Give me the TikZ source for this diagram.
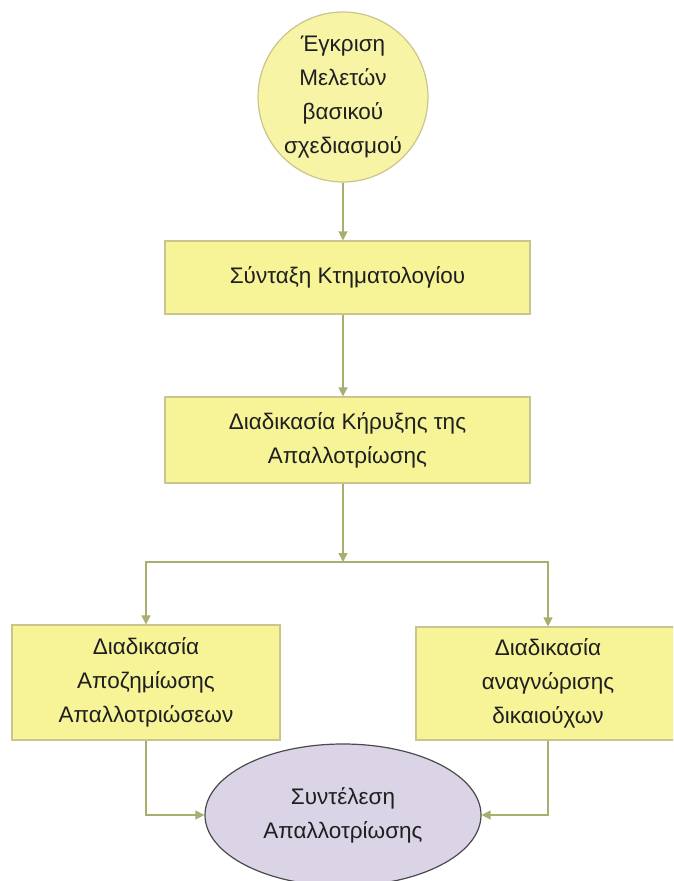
\documentclass[tikz,border=0pt]{standalone}
\usepackage{fontspec}
\setmainfont{Liberation Sans}
\usetikzlibrary{shapes.geometric,arrows.meta}
\definecolor{boxfill}{HTML}{F7F397}
\definecolor{boxline}{HTML}{C9C58C}
\definecolor{circfill}{HTML}{F8F4A6}
\definecolor{ellfill}{HTML}{DAD4E6}
\definecolor{ellline}{HTML}{4A4A4A}
\definecolor{arrcol}{HTML}{A9AE6E}
\tikzset{
  stepbox/.style={rectangle, draw=boxline, line width=1.2pt, fill=boxfill, align=center, inner sep=2pt},
  txt/.style={font=\fontsize{22.5}{34}\selectfont, text=black!88},
  arr/.style={draw=arrcol, line width=1.4pt, -{Triangle[width=9pt,length=9pt]}},
}
\begin{document}
\begin{tikzpicture}[x=1pt,y=-1pt]
\useasboundingbox (0,0) rectangle (673,881);
\clip (0,0) rectangle (673,881);
\node[circle, draw=boxline, line width=1.2pt, fill=circfill, minimum size=166pt, align=center, txt, inner sep=0pt] (c) at (343,97) {Έγκριση\\Μελετών\\βασικού\\σχεδιασμού};
\node[stepbox, txt, minimum width=365pt, minimum height=73pt] (b1) at (347.5,277.5) {Σύνταξη Κτηματολογίου};
\node[stepbox, txt, minimum width=365pt, minimum height=86pt] (b2) at (347.5,440) {Διαδικασία Κήρυξης της\\Απαλλοτρίωσης};
\node[stepbox, txt, minimum width=268pt, minimum height=115pt] (L) at (146,682.5) {Διαδικασία\\Αποζημίωσης\\Απαλλοτριώσεων};
\node[stepbox, txt, minimum width=264pt, minimum height=113pt] (R) at (548,683.5) {Διαδικασία\\αναγνώρισης\\δικαιούχων};
\node[ellipse, draw=ellline, line width=1.2pt, fill=ellfill, minimum width=276pt, minimum height=142pt, align=center, txt] (E) at (343,815) {Συντέλεση\\Απαλλοτρίωσης};
\coordinate (j) at (343,562);
\draw[arr] (c.south) -- (c.south |- b1.north);
\draw[arr] (b1.south -| c) -- (b2.north -| c);
\draw[arr] (b2.south -| j) -- (j);
\draw[arr] (j) -| (L);
\draw[arr] (j) -| (R);
\draw[arr] (L) |- (E);
\draw[arr] (R) |- (E);
\end{tikzpicture}
\end{document}
